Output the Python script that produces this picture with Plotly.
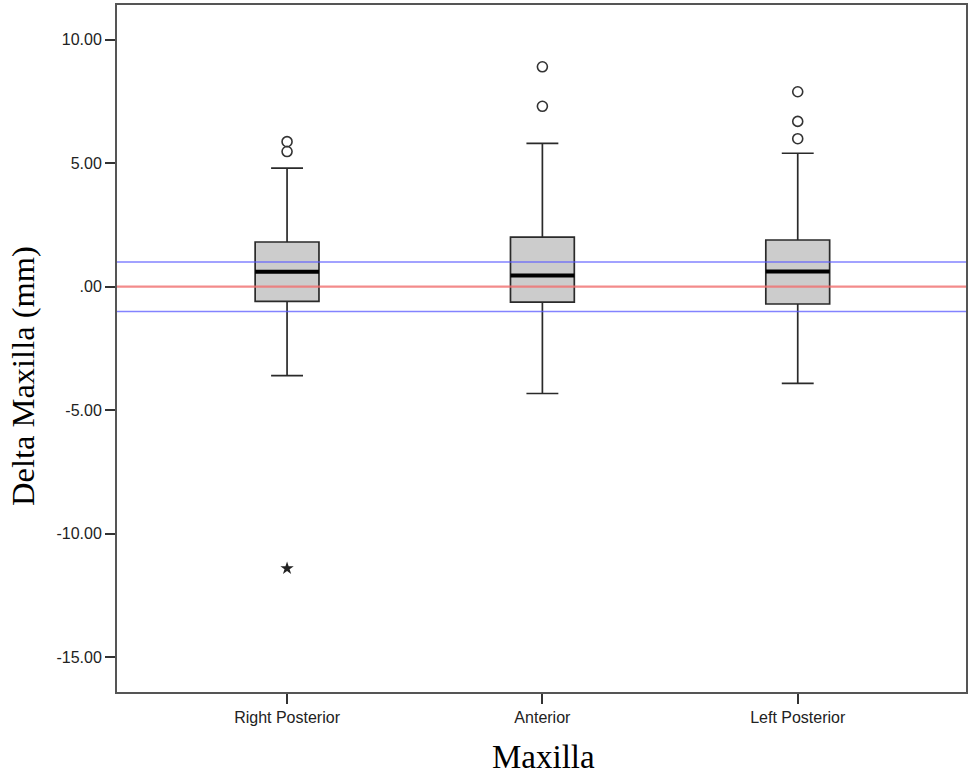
import plotly.graph_objects as go

categories = ["Right Posterior", "Anterior", "Left Posterior"]
q1 = [-0.59, -0.62, -0.70]
median = [0.61, 0.45, 0.62]
q3 = [1.81, 2.01, 1.89]
lower_whisker = [-3.60, -4.32, -3.91]
upper_whisker = [4.80, 5.80, 5.40]
outliers = [[5.47, 5.87], [7.30, 8.90], [5.99, 6.69, 7.89]]
extremes = [[-11.40], [], []]
ref_lines_blue = [1.0, -1.0]
ref_line_red = [0.0]
y_ticks = [10, 5, 0, -5, -10, -15]
y_tick_labels = ["10.00", "5.00", ".00", "-5.00", "-10.00", "-15.00"]
x_title = "Maxilla"
y_title = "Delta Maxilla (mm)"

xpos = list(range(len(categories)))
box_w = 0.25

W, H = 972, 778
ML, MR, MT, MB = 117, 6, 5, 86
PW, PH = W - ML - MR, H - MT - MB

fig = go.Figure()
fig.add_trace(go.Box(
    x=xpos, q1=q1, median=median, q3=q3,
    lowerfence=lower_whisker, upperfence=upper_whisker,
    width=box_w, whiskerwidth=0.5,
    fillcolor="#cccccc",
    line=dict(color="#2a2a2a", width=1.7),
    boxpoints=False, showlegend=False, hoverinfo="skip",
))

ox, oy = [], []
for i, vals in enumerate(outliers):
    for v in vals:
        ox.append(xpos[i]); oy.append(v)
fig.add_trace(go.Scatter(
    x=ox, y=oy, mode="markers", showlegend=False,
    marker=dict(symbol="circle-open", size=10, color="#333333", line=dict(width=1.6)),
))
ex, ey = [], []
for i, vals in enumerate(extremes):
    for v in vals:
        ex.append(xpos[i]); ey.append(v)
fig.add_trace(go.Scatter(
    x=ex, y=ey, mode="markers", showlegend=False,
    marker=dict(symbol="star", size=10, color="#222222", line=dict(width=0)),
))

shapes = []
for i, m in enumerate(median):
    shapes.append(dict(type="line", xref="x", yref="y",
                       x0=xpos[i] - box_w / 2, x1=xpos[i] + box_w / 2, y0=m, y1=m,
                       line=dict(color="black", width=4), layer="above"))
for v in ref_lines_blue:
    shapes.append(dict(type="line", xref="paper", yref="y", x0=0, x1=1, y0=v, y1=v,
                       line=dict(color="rgba(90,90,255,0.75)", width=1.5), layer="above"))
for v in ref_line_red:
    shapes.append(dict(type="line", xref="paper", yref="y", x0=0, x1=1, y0=v, y1=v,
                       line=dict(color="rgba(240,110,110,0.8)", width=2.2), layer="above"))

annotations = [
    dict(text=x_title, xref="paper", yref="paper", x=(543 - ML) / PW, y=-65 / PH,
         showarrow=False, xanchor="center", yanchor="middle",
         font=dict(family="Liberation Serif, Times New Roman", size=33, color="black")),
    dict(text=y_title, xref="paper", yref="paper", x=(23 - ML) / PW, y=(H - MB - 376) / PH,
         showarrow=False, xanchor="center", yanchor="middle", textangle=-90,
         font=dict(family="Liberation Serif, Times New Roman", size=32.5, color="black")),
]

fig.update_layout(
    width=W, height=H,
    margin=dict(l=ML, r=MR, t=MT, b=MB, autoexpand=False),
    paper_bgcolor="white", plot_bgcolor="white",
    shapes=shapes, annotations=annotations,
    xaxis=dict(
        range=[-0.666, 2.659], tickmode="array", tickvals=xpos, ticktext=categories,
        showgrid=False, zeroline=False, showline=True, mirror=True,
        linecolor="#555555", linewidth=2,
        ticks="outside", ticklen=10, tickwidth=1.5, tickcolor="#333333",
        tickfont=dict(family="Liberation Sans, Arial", size=16, color="#222222"),
    ),
    yaxis=dict(
        range=[-16.4, 11.4], tickmode="array", tickvals=y_ticks, ticktext=y_tick_labels,
        showgrid=False, zeroline=False, showline=True, mirror=True,
        linecolor="#555555", linewidth=2,
        ticks="outside", ticklen=10, tickwidth=2, tickcolor="#333333",
        tickfont=dict(family="Liberation Sans, Arial", size=16, color="#222222"),
    ),
)

fig.write_html("out.html", config={"displayModeBar": False},
               post_script="document.body.style.margin='0';")
